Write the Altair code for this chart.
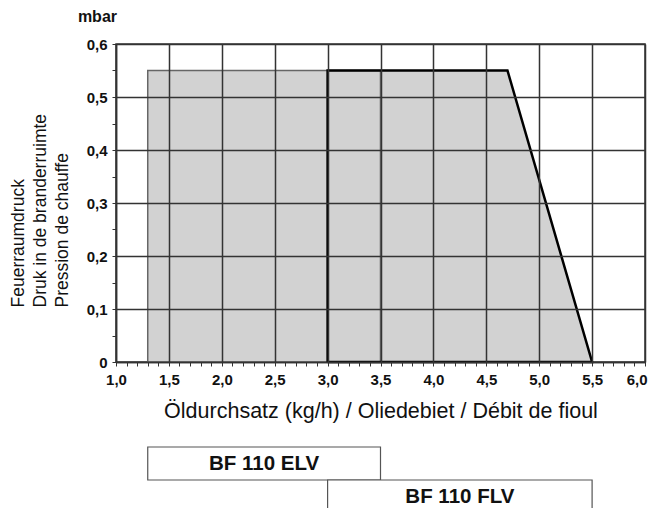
import altair as alt
import pandas as pd

# Envelope polygons (x: oil throughput kg/h, y: pressure mbar)
elv_x = [1.3, 1.3, 3.5, 3.5, 1.3]
elv_y = [0.0, 0.55, 0.55, 0.0, 0.0]
flv_x = [3.0, 3.0, 4.7, 5.5, 3.0]
flv_y = [0.0, 0.55, 0.55, 0.0, 0.0]

# Burner model ranges
ranges = ["BF 110 ELV", "BF 110 FLV"]
range_start = [1.3, 3.0]
range_end = [3.5, 5.5]

# Axis ticks
x_ticks = [round(1.0 + 0.1 * i, 1) for i in range(51)]
y_ticks = [round(0.05 * i, 2) for i in range(13)]

y_title = ["Feuerraumdruck", "Druk in de branderruimte", "Pression de chauffe"]
x_title = "Öldurchsatz (kg/h) / Oliedebiet / Débit de fioul"
unit = "mbar"

FONT = "Liberation Sans"
DARK = "#333333"
TEXT = "#111111"

elv_df = pd.DataFrame({"x": elv_x, "y": elv_y, "i": list(range(len(elv_x)))})
flv_df = pd.DataFrame({"x": flv_x, "y": flv_y, "i": list(range(len(flv_x)))})
elv_rect = pd.DataFrame({"x": [min(elv_x)], "x2": [max(elv_x)],
                         "y": [max(elv_y)], "y2": [min(elv_y)]})
flv_fill = flv_df.iloc[1:4].reset_index(drop=True)

xs = alt.Scale(domain=[1.0, 6.0], nice=False, zero=False)
ys = alt.Scale(domain=[0.0, 0.6], nice=False, zero=False)

x_major_test = "abs(datum.value*2 - round(datum.value*2)) < 0.001"
y_major_test = "abs(datum.value*10 - round(datum.value*10)) < 0.001"
x_last_test = "datum.value > 5.95"

x_axis = alt.Axis(
    values=x_ticks,
    labelExpr=f"{x_major_test} ? replace(format(datum.value, '.1f'), '.', ',') : ''",
    gridOpacity={"condition": {"test": x_major_test, "value": 1}, "value": 0},
    labelAlign={"condition": {"test": x_last_test, "value": "right"}, "value": "center"},
    labelOffset={"condition": {"test": x_last_test, "value": 2}, "value": 0},
    tickSize=4, labelFontSize=15, labelFontWeight="bold", labelPadding=6,
    labelOverlap=False, labelFlush=False,
    title=x_title, titleFontSize=21.5, titleFontWeight="normal", titlePadding=13,
    zindex=1,
)
y_axis = alt.Axis(
    values=y_ticks,
    labelExpr=(f"datum.value == 0 ? '0' : ({y_major_test} ? "
               "replace(format(datum.value, '.1f'), '.', ',') : '')"),
    gridOpacity={"condition": {"test": y_major_test, "value": 1}, "value": 0},
    tickSize=4, labelFontSize=15, labelFontWeight="bold", labelPadding=5,
    labelOverlap=False, labelFlush=False,
    title=y_title, titleFontSize=17.5, titleFontWeight="normal",
    titleAngle=270, titleAlign="left", titleBaseline="top",
    titleX=-107, titleY=263, titleLineHeight=22,
    zindex=1,
)

X = alt.X("x:Q", scale=xs, axis=x_axis)
Y = alt.Y("y:Q", scale=ys, axis=y_axis)

elv_fill_layer = alt.Chart(elv_rect).mark_rect(fill="#d2d2d2").encode(
    x=X, x2="x2:Q", y=Y, y2="y2:Q")
flv_fill_layer = alt.Chart(flv_fill).mark_area(fill="#d2d2d2").encode(x=X, y=Y)
elv_line = alt.Chart(elv_df).mark_line(color="#666666", strokeWidth=1.5).encode(
    x=X, y=Y, order="i:Q")
flv_line = alt.Chart(flv_df).mark_line(color="#000000", strokeWidth=2.5).encode(
    x=X, y=Y, order="i:Q")
unit_label = alt.Chart(pd.DataFrame({"t": [unit]})).mark_text(
    align="right", baseline="middle", fontSize=16, fontWeight="bold", font=FONT,
    color=TEXT).encode(x=alt.value(1), y=alt.value(-27), text="t:N")

main = alt.layer(elv_fill_layer, flv_fill_layer, elv_line, flv_line, unit_label).properties(
    width=529, height=318)

range_df = pd.DataFrame({"name": ranges, "start": range_start, "end": range_end})
band_y = alt.Y("name:N", axis=None, sort=ranges,
               scale=alt.Scale(paddingInner=0, paddingOuter=0))
bars = alt.Chart(range_df).mark_rect(fill="white", stroke="#555555", strokeWidth=1.2).encode(
    x=alt.X("start:Q", scale=xs, axis=None),
    x2="end:Q",
    y=band_y,
)
bar_text = alt.Chart(range_df).transform_calculate(
    mid="(datum.start + datum.end) / 2").mark_text(
    fontSize=20.5, fontWeight="bold", font=FONT, color=TEXT).encode(
    x=alt.X("mid:Q", scale=xs, axis=None),
    y=band_y,
    text="name:N",
)
bottom = alt.layer(bars, bar_text).properties(
    width=529, height=66, view=alt.ViewBackground(stroke="transparent"))

chart = alt.vconcat(main, bottom, spacing=22).properties(
    padding={"left": 0, "top": 0, "right": 0, "bottom": 0}
).configure_view(stroke=DARK, strokeWidth=1.5).configure_axis(
    domainColor=DARK, domainWidth=1.5, gridColor=DARK, gridWidth=1.5,
    tickColor=DARK, tickWidth=1, labelColor=TEXT, titleColor=TEXT,
    labelFont=FONT, titleFont=FONT,
).configure_text(font=FONT)

chart.save("out.html", embed_options={"renderer": "svg", "actions": False})
